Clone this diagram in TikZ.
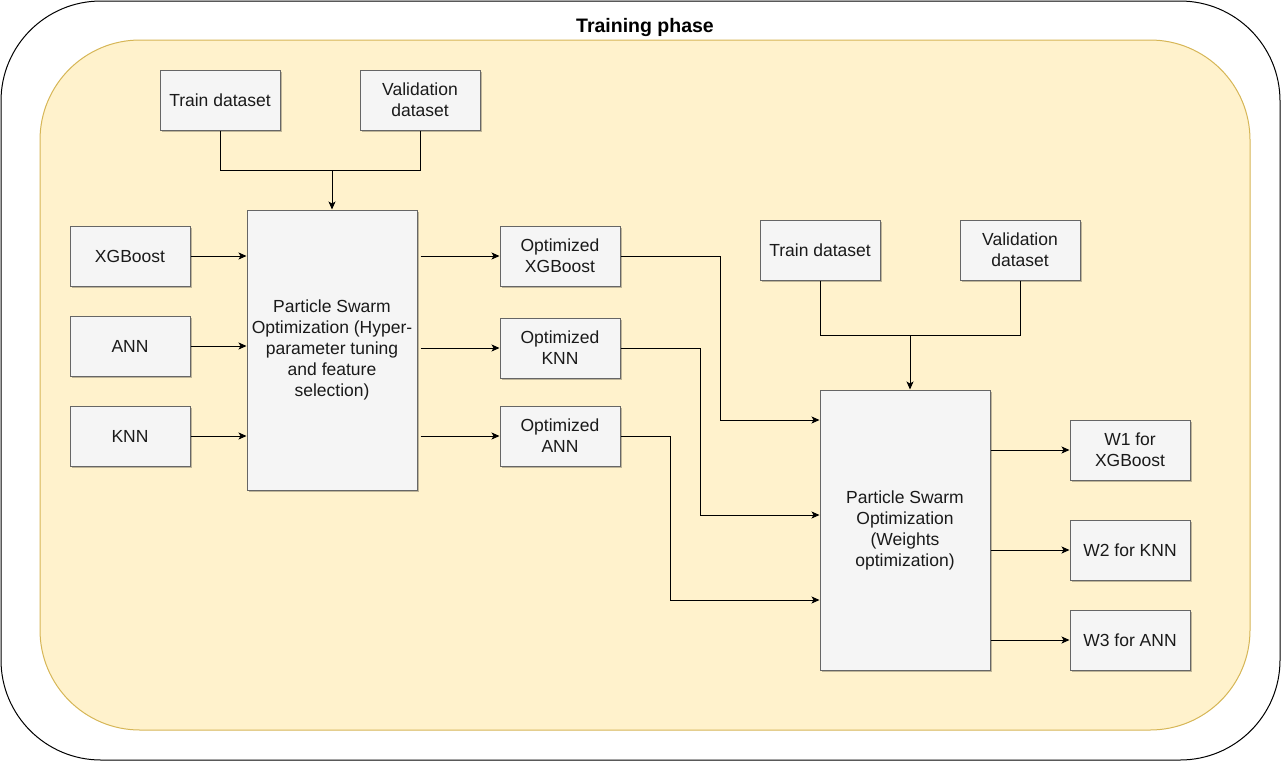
\documentclass[tikz,border=0pt]{standalone}
\usepackage{fontspec}
\setmainfont{Liberation Sans}
\usepackage{tikz}
\usetikzlibrary{arrows.meta,shadows}

\definecolor{phasefill}{HTML}{FFF2CC}
\definecolor{phaseline}{HTML}{D6B656}
\definecolor{boxfill}{HTML}{F5F5F5}
\definecolor{boxline}{HTML}{666666}
\definecolor{boxtext}{HTML}{1A1A1A}

\begin{document}
\begin{tikzpicture}[x=1pt,y=-1pt,line width=1pt,
	every node/.style={font=\fontsize{17.5}{21}\selectfont,align=center,text=boxtext},
	block/.style={draw=boxline,fill=boxfill,minimum width=120pt,minimum height=60pt,inner sep=2pt,
		drop shadow={shadow xshift=2pt,shadow yshift=-2pt,opacity=0.25,fill=black}},
	psobox/.style={block,minimum width=170pt,minimum height=280pt},
	link/.style={draw=black,-{Stealth[length=8pt,width=7pt,inset=2pt]}}]
	\useasboundingbox (0,0) rectangle (1281,761);
	% frames
	\draw[rounded corners=100pt] (1,1) rectangle (1280,760);
	\draw[draw=phaseline,fill=phasefill,rounded corners=100pt] (40,40) rectangle (1250,730);
	\node[font=\fontsize{19.5}{23}\selectfont\bfseries,text=black] (title) at (645,27) {Training phase};
	% first stage
	\node[block] (trainA) at (220,100) {Train dataset};
	\node[block] (valA) at (420,100) {Validation\\dataset};
	\node[block] (xgb) at (130,256) {XGBoost};
	\node[block] (ann) at (130,346) {ANN};
	\node[block] (knn) at (130,436) {KNN};
	\node[psobox] (pso1) at (332,350) {Particle Swarm\\Optimization (Hyper-\\parameter tuning\\and feature\\selection)};
	\node[block] (oxgb) at (560,256) {Optimized\\XGBoost};
	\node[block] (oknn) at (560,348) {Optimized\\KNN};
	\node[block] (oann) at (560,436) {Optimized\\ANN};
	% second stage
	\node[block] (trainB) at (820,250) {Train dataset};
	\node[block] (valB) at (1020,250) {Validation\\dataset};
	\node[psobox] (pso2) at (905,530) {Particle Swarm\\Optimization\\(Weights\\optimization)};
	\node[block] (w1) at (1130,450) {W1 for\\XGBoost};
	\node[block] (w2) at (1130,550) {W2 for KNN};
	\node[block] (w3) at (1130,640) {W3 for ANN};
	% joints
	\coordinate (jA) at (332,170);
	\coordinate (jB) at (910,335);
	\coordinate (bxgb) at (720,420);
	\coordinate (bknn) at (700,515);
	\coordinate (bann) at (670,600);
	% connectors
	\draw (trainA.south) |- (jA);
	\draw (valA.south) |- (jA);
	\draw[link] (jA) -- (pso1.north);
	\foreach \m in {xgb,ann,knn}
		\draw[link] (\m.east) -- (\m.east -| pso1.west);
	\foreach \m in {oxgb,oknn,oann}
		\draw[link] (\m.west -| pso1.east) ++(3,0) -- (\m.west);
	\draw (trainB.south) |- (jB);
	\draw (valB.south) |- (jB);
	\draw[link] (jB) -- (jB |- pso2.north);
	\draw[link] (oxgb.east) -| (bxgb) -- (bxgb -| pso2.west);
	\draw[link] (oknn.east) -| (bknn) -- (bknn -| pso2.west);
	\draw[link] (oann.east) -| (bann) -- (bann -| pso2.west);
	\foreach \w in {w1,w2,w3}
		\draw[link] (\w.west -| pso2.east) -- (\w.west);
\end{tikzpicture}
\end{document}
